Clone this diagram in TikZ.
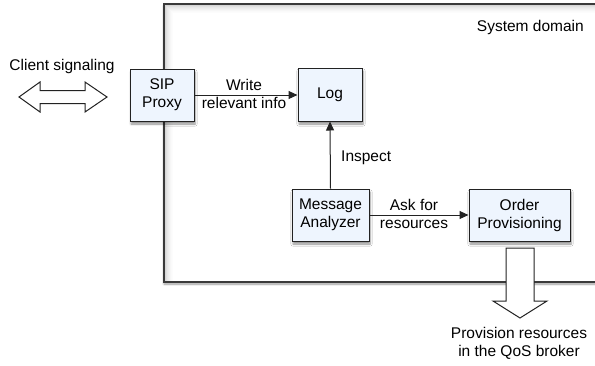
\documentclass[tikz,border=0pt]{standalone}
\usepackage{fontspec}
\setmainfont{Liberation Sans}
\usetikzlibrary{shadows.blur,arrows.meta}
\definecolor{boxfill}{HTML}{EEF5FE}
\definecolor{edge}{HTML}{222222}
\definecolor{frameedge}{HTML}{3A3A3A}
\tikzset{
  unit/.style={draw=edge, line width=1pt, fill=boxfill,
    blur shadow={shadow xshift=1pt, shadow yshift=-3pt, shadow blur steps=6, shadow opacity=45},
    align=center, font=\fontsize{15.5}{18}\selectfont, inner sep=0pt},
  lbl/.style={align=center, font=\fontsize{15.5}{18}\selectfont, inner sep=0pt},
  flow/.style={draw=edge, line width=1pt, -{Triangle[length=9pt,width=8pt]}},
  bigarrow/.style={draw=edge, line width=1pt, fill=white, line join=miter}
}
\begin{document}
\begin{tikzpicture}[x=1pt,y=-1pt]
\useasboundingbox (0,0) rectangle (595,365);
% system domain frame with its soft shadow
\fill[white, blur shadow={shadow xshift=0pt, shadow yshift=-2pt, shadow blur steps=8, shadow opacity=40}]
  (164,4) rectangle (605,282);
\foreach \i/\o in {1/0.16,2/0.12,3/0.09,4/0.07,5/0.05,6/0.035,7/0.02,8/0.01} {
  \draw[black, opacity=\o, line width=1pt] (164+\i,282) -- (164+\i,4+\i) -- (605,4+\i);
}
\draw[draw=frameedge, line width=1.4pt] (605,4) -- (164,4) -- (164,282) -- (605,282);
\node[lbl, anchor=east] (dom) at (584,27) {System domain};

% components
\node[unit, minimum width=64pt, minimum height=52pt] (sip) at (162,95) {SIP\\Proxy};
\node[unit, minimum width=64pt, minimum height=53pt] (log) at (330,94.5) {Log};
\node[unit, minimum width=77pt, minimum height=52pt] (ma) at (330.5,215) {Message\\Analyzer};
\node[unit, minimum width=101pt, minimum height=52pt] (op) at (519.5,215) {Order\\Provisioning};

% flows between components
\draw[flow] (sip.east |- 0,95) -- (log.west |- 0,95);
\node[lbl] (w) at (244,94) {Write\\relevant info};
\draw[flow] (ma.north) -- (log.south);
\node[lbl, anchor=west] (ins) at (341,158) {Inspect};
\draw[flow] (ma.east) -- (op.west);
\node[lbl] (ask) at (414,214) {Ask for\\resources};

% client signaling (double-headed block arrow)
\coordinate (csl0) at (19,97);
\coordinate (csr0) at (107,97);
\draw[bigarrow] (csl0) -- (40,82) -- (40,90.5) -- (85,90.5) -- (85,82) -- (csr0)
  -- (85,112) -- (85,103.5) -- (40,103.5) -- (40,112) -- cycle;
\node[lbl] (csl) at (62,66) {Client signaling};

% provisioning towards the QoS broker
\coordinate (dtop) at (520,248);
\draw[bigarrow] (506,248) -- (534,248) -- (534,301) -- (547,301) -- (520,318)
  -- (493,301) -- (506,301) -- cycle;
\node[lbl] (qos) at (519,343) {Provision resources\\in the QoS broker};
\end{tikzpicture}
\end{document}
